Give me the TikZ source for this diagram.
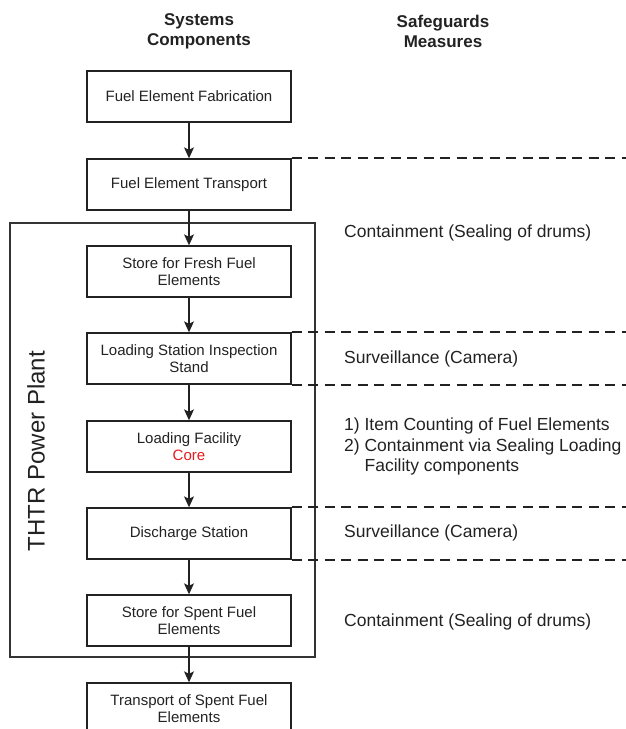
\documentclass[tikz,border=0pt]{standalone}
\usepackage{fontspec}
\setmainfont{Liberation Sans}
\usetikzlibrary{arrows.meta}
\definecolor{ink}{HTML}{222222}
\definecolor{frame}{HTML}{333333}
\definecolor{corered}{HTML}{E8191C}
\begin{document}
\begin{tikzpicture}[x=1pt,y=-1pt,
  stepbox/.style={draw=ink, line width=1.4pt, minimum width=204pt, minimum height=51pt,
    align=center, font=\fontsize{15}{17.5}\selectfont, text=ink, inner sep=0pt},
  flow/.style={draw=ink, line width=1.2pt, -{Stealth[length=11pt,width=10pt,inset=2.5pt]}},
  guard/.style={draw=ink, line width=1.9pt, dash pattern=on 10pt off 6.5pt},
  measure/.style={anchor=west, font=\fontsize{17.5}{20.5}\selectfont, text=ink, inner sep=0pt, align=left},
  header/.style={font=\bfseries\fontsize{17}{20}\selectfont, align=center, text=ink, inner sep=0pt},
  plant/.style={draw=frame, line width=2.6pt}]

\useasboundingbox (0,0) rectangle (626,729);
\coordinate (R) at (626,0);

% headers
\node[header] (h1) at (199,31) {Systems\\Components};
\node[header] (h2) at (443,31) {Safeguards\\Measures};

% plant frame
\draw[plant] (10,223) rectangle (315,657);
\node[rotate=90, font=\fontsize{24}{28}\selectfont, text=ink, inner sep=0pt] (thtr) at (36,451) {THTR Power Plant};

% flow boxes
\node[stepbox] (fab)    at (189,96.5)  {Fuel Element Fabrication};
\node[stepbox] (trans)  at (189,184.5) {Fuel Element Transport};
\node[stepbox] (fresh)  at (189,271.5) {Store for Fresh Fuel\\Elements};
\node[stepbox] (insp)   at (189,358.5) {Loading Station Inspection\\Stand};
\node[stepbox] (load)   at (189,446.5) {Loading Facility\\{\color{corered}Core}};
\node[stepbox] (dis)    at (189,533.5) {Discharge Station};
\node[stepbox] (spent)  at (189,620.5) {Store for Spent Fuel\\Elements};
\node[stepbox] (tspent) at (189,708.5) {Transport of Spent Fuel\\Elements};

% connectors
\draw[flow] (fab) -- (trans);
\draw[flow] (trans) -- (fresh);
\draw[flow] (fresh) -- (insp);
\draw[flow] (insp) -- (load);
\draw[flow] (load) -- (dis);
\draw[flow] (dis) -- (spent);
\draw[flow] (spent) -- (tspent);

% dashed separators
\draw[guard] (trans.north east) -- (trans.north east -| R);
\draw[guard] (insp.north east) -- (insp.north east -| R);
\draw[guard] (insp.south east) -- (insp.south east -| R);
\draw[guard] (dis.north east) -- (dis.north east -| R);
\draw[guard] (dis.south east) -- (dis.south east -| R);

% safeguards measures
\node[measure] (c1) at (344,233) {Containment (Sealing of drums)};
\node[measure] (s1) at (344,359) {Surveillance (Camera)};
\node[measure] (m1) at (344,447) {\begin{tabular}{@{}l@{\ }l@{}}1) & Item Counting of Fuel Elements\\2) & Containment via Sealing Loading\\ & Facility components\end{tabular}};
\node[measure] (s2) at (344,533) {Surveillance (Camera)};
\node[measure] (c2) at (344,622) {Containment (Sealing of drums)};
\end{tikzpicture}
\end{document}
